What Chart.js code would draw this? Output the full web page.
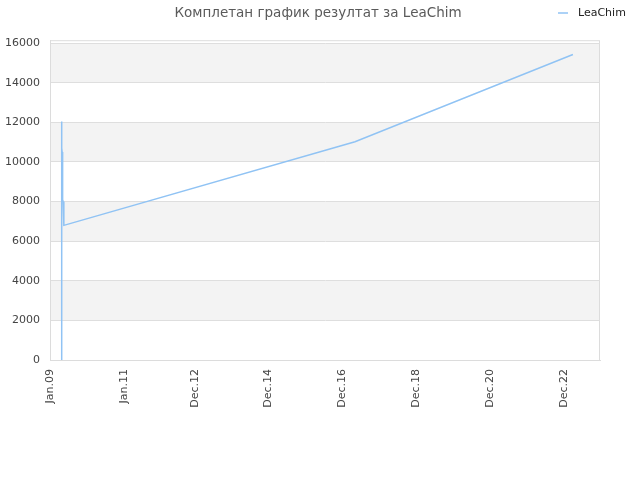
<!DOCTYPE html>
<html>
<head>
<meta charset="utf-8">
<script src="https://cdn.jsdelivr.net/npm/chart.js@4"></script>
<style>
  body { margin: 0; background: #fff; }
  #caja { width: 640px; height: 480px; }
</style>
</head>
<body>
<div id="caja"><canvas id="grafica" width="640" height="480"></canvas></div>
<script>
// Datos: meses desde enero 2009 y puntaje
const meses = [3.7, 3.75, 3.85, 3.95, 4.1, 4.3, 4.5, 99.1, 169.9];
const puntajes = [0, 12050, 10700, 10500, 8100, 8000, 6800, 11020, 15430];
const mesesTicks = [0, 24, 47, 71, 95, 119, 143, 167];
const etiquetasX = ['Jan.09', 'Jan.11', 'Dec.12', 'Dec.14', 'Dec.16', 'Dec.18', 'Dec.20', 'Dec.22'];
const valoresY = [0, 2000, 4000, 6000, 8000, 10000, 12000, 14000, 16000];
const nombreSerie = 'LeaChim';
const colorLinea = '#90c3f4';

// Franjas grises, marco del área y leyenda
const fondoFranjas = {
    id: 'fondoFranjas',
    beforeDraw(chart) {
        const { ctx, chartArea, scales } = chart;
        ctx.save();
        ctx.fillStyle = '#f3f3f3';
        for (let i = 1; i < valoresY.length - 1; i += 2) {
            const y1 = scales.y.getPixelForValue(valoresY[i + 1]);
            const y0 = scales.y.getPixelForValue(valoresY[i]);
            ctx.fillRect(chartArea.left, y1, chartArea.right - chartArea.left, y0 - y1);
        }
        ctx.strokeStyle = '#dcdcdc';
        ctx.lineWidth = 1;
        ctx.strokeRect(chartArea.left + 0.5, chartArea.top + 0.5,
            chartArea.right - chartArea.left - 1, chartArea.bottom - chartArea.top);
        ctx.restore();
    },
    afterDraw(chart) {
        const ctx = chart.ctx;
        ctx.save();
        ctx.strokeStyle = colorLinea;
        ctx.lineWidth = 1.5;
        ctx.beginPath();
        ctx.moveTo(558, 13);
        ctx.lineTo(568, 13);
        ctx.stroke();
        ctx.fillStyle = '#222';
        ctx.font = '11px "DejaVu Sans"';
        ctx.textBaseline = 'middle';
        ctx.fillText(chart.data.datasets[0].label, 578, 13);
        ctx.restore();
    }
};

new Chart(document.getElementById('grafica').getContext('2d'), {
    type: 'line',
    data: {
        datasets: [{
            label: nombreSerie,
            data: meses.map((m, i) => ({ x: m, y: puntajes[i] })),
            borderColor: colorLinea,
            backgroundColor: colorLinea,
            borderWidth: 1.5,
            pointRadius: 0,
            tension: 0,
            fill: false
        }]
    },
    options: {
        responsive: false,
        animation: false,
        devicePixelRatio: 1,
        layout: { padding: { right: 4, left: 0 } },
        plugins: {
            legend: { display: false },
            tooltip: { enabled: false },
            title: {
                display: true,
                text: 'Комплетан график резултат за ' + nombreSerie,
                color: '#5a5a5a',
                font: { family: 'DejaVu Sans', size: 13.5, weight: 'normal' },
                padding: { top: 5, bottom: 19 }
            }
        },
        scales: {
            x: {
                type: 'linear',
                min: 0,
                max: 178.7,
                afterBuildTicks: (escala) => { escala.ticks = mesesTicks.map(v => ({ value: v })); },
                afterFit: (escala) => { escala.height = 120; },
                ticks: {
                    color: '#444',
                    font: { family: 'DejaVu Sans', size: 11 },
                    minRotation: 90,
                    maxRotation: 90,
                    padding: 9,
                    callback: (v) => etiquetasX[mesesTicks.indexOf(v)]
                },
                grid: { display: false, drawTicks: false },
                border: { color: '#dcdcdc' }
            },
            y: {
                min: 0,
                max: 16150,
                afterBuildTicks: (escala) => { escala.ticks = valoresY.map(v => ({ value: v })); },
                afterFit: (escala) => { escala.width = 50; },
                ticks: {
                    color: '#444',
                    font: { family: 'DejaVu Sans', size: 11 },
                    padding: 10,
                    callback: (v) => v
                },
                grid: { color: '#dedede', drawTicks: false },
                border: { color: '#dcdcdc' }
            },
            // eje vacío a la derecha para dejar el margen
            margen: {
                type: 'linear',
                position: 'right',
                afterFit: (escala) => { escala.width = 36; },
                ticks: { display: false },
                grid: { display: false, drawTicks: false },
                border: { display: false }
            }
        }
    },
    plugins: [fondoFranjas]
});
</script>
</body>
</html>
